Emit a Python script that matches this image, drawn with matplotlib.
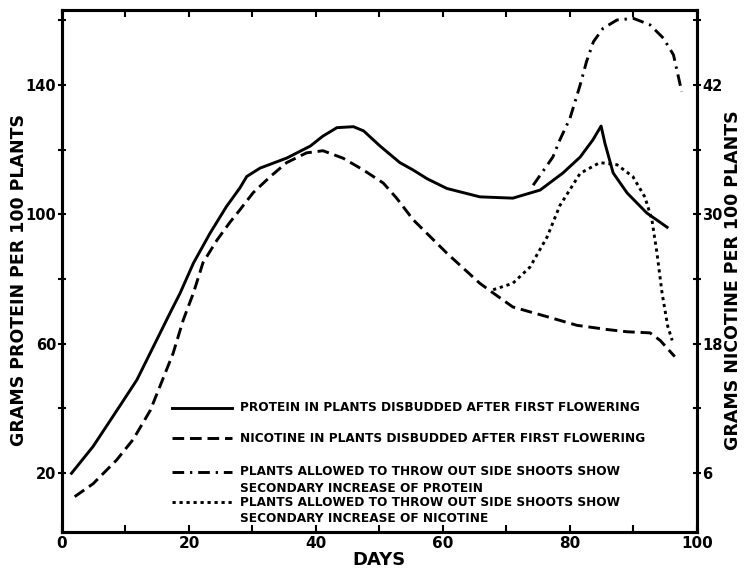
import matplotlib
matplotlib.use("Agg")
import matplotlib.pyplot as plt

# protein in disbudded plants (g / 100 plants, left axis)
prot_days = [1.5, 4.9, 9.1, 11.8, 14.4, 17.0, 18.6, 20.7, 23.3, 25.9, 28.0, 29.1, 31.2, 35.4,
             39.1, 41.1, 43.3, 45.9, 47.5, 50.1, 53.2, 55.3, 57.5, 60.6, 65.8, 71, 75.3, 78.9,
             81.6, 83.6, 84.9, 85.5, 86.8, 89, 92.1, 95.3]
prot_vals = [19.9, 28.2, 40.7, 48.8, 59.1, 69.4, 75.6, 84.9, 94.1, 102.4, 108.1, 111.7, 114.3, 117.4,
             121.1, 124.2, 126.8, 127.1, 125.8, 121.1, 116.0, 113.7, 111, 108, 105.4, 105, 107.5, 112.8,
             117.7, 123, 127.3, 122, 112.8, 106.6, 100.4, 96]

# nicotine in disbudded plants (g / 100 plants, right axis)
nic_days = [2.0, 4.9, 8.6, 11.2, 13.9, 15.4, 17.5, 19.1, 20.7, 22.2, 24.4, 26.5, 28.0, 30.1,
            32.8, 35.4, 38.5, 41.1, 44.3, 47.5, 50.6, 52.7, 55.3, 60.6, 65.8, 67.9, 71, 76.4,
            81.1, 86, 89, 92.6, 94.2, 96.5]
nic_vals = [3.8, 5.0, 7.2, 9.1, 11.8, 14.0, 17.1, 20.2, 22.7, 25.5, 27.6, 29.3, 30.4, 32.0,
            33.5, 34.8, 35.7, 35.9, 35.2, 34.1, 32.9, 31.5, 29.5, 26.4, 23.6, 22.7, 21.4, 20.5,
            19.7, 19.3, 19.1, 19.0, 18.3, 16.8]

# plants with side shoots, protein (left axis)
side_prot_days = [74.2, 77.3, 78.4, 80, 81.6, 82.6, 83.7, 85.2, 87.4, 90, 92.6, 94.7, 96.3, 97.6]
side_prot_vals = [109, 117.7, 123, 129.7, 140, 147.2, 153.4, 157.5, 160.1, 160.6, 158.6, 154.5, 149.3, 137.9]

# plants with side shoots, nicotine (right axis)
side_nic_days = [67.9, 71, 73.7, 76.4, 78.4, 81.6, 84.7, 87.4, 89.9, 91.8, 92.9, 93.7, 94.5, 95.4, 96.1]
side_nic_vals = [23.0, 23.6, 25.1, 27.9, 30.8, 33.8, 34.8, 34.6, 33.5, 31.6, 29.5, 26.4, 22.7, 19.6, 18.3]

legend_labels = [
    ["PROTEIN IN PLANTS DISBUDDED AFTER FIRST FLOWERING"],
    ["NICOTINE IN PLANTS DISBUDDED AFTER FIRST FLOWERING"],
    ["PLANTS ALLOWED TO THROW OUT SIDE SHOOTS SHOW", "SECONDARY INCREASE OF PROTEIN"],
    ["PLANTS ALLOWED TO THROW OUT SIDE SHOOTS SHOW", "SECONDARY INCREASE OF NICOTINE"],
]

plt.rcParams['font.family'] = 'DejaVu Sans'
plt.rcParams['font.weight'] = 'bold'

fig = plt.figure(figsize=(7.44, 5.73), dpi=100)
ax = fig.add_axes([0.0833, 0.0716, 0.8535, 0.911])
ax2 = ax.twinx()

lw = 2.1
dash = (0, (4, 2))
dashdot = (0, (4, 2, 0.8, 2))
dotted = (0, (1.1, 1.3))
styles = ['-', dash, dashdot, dotted]

ax.plot(prot_days, prot_vals, color='black', lw=lw)
ax.plot(side_prot_days, side_prot_vals, color='black', lw=lw, linestyle=dashdot)
ax2.plot(nic_days, nic_vals, color='black', lw=lw, linestyle=dash)
ax2.plot(side_nic_days, side_nic_vals, color='black', lw=lw, linestyle=dotted)

ax.set_xlim(0, 100)
ax.set_ylim(1.75, 163.2)
ax2.set_ylim(1.75 * 0.3, 163.2 * 0.3)

ax.set_xticks(range(0, 101, 10))
ax.set_xticklabels([str(v) if v % 20 == 0 else "" for v in range(0, 101, 10)])
ax.set_yticks(range(20, 161, 20))
ax.set_yticklabels([str(v) if v in (20, 60, 100, 140) else "" for v in range(20, 161, 20)])
ax2.set_yticks(range(6, 49, 6))
ax2.set_yticklabels([str(v) if v in (6, 18, 30, 42) else "" for v in range(6, 49, 6)])

ax.tick_params(axis='x', direction='in', top=True, length=5, width=1.5, labelsize=11, pad=3)
ax.tick_params(axis='y', direction='inout', length=6, width=1.5, labelsize=10.5, pad=1)
ax2.tick_params(axis='y', direction='inout', length=6, width=1.5, labelsize=10.5, pad=1)

for a in (ax, ax2):
    for s in a.spines.values():
        s.set_linewidth(2.2)

ax.set_xlabel("DAYS", fontsize=13, fontweight='bold')
ax.xaxis.set_label_coords(0.5, -0.036)
ax.set_ylabel("GRAMS PROTEIN PER 100 PLANTS", fontsize=12.5, fontweight='bold')
ax.yaxis.set_label_coords(-0.053, 0.483)
ax2.set_ylabel("GRAMS NICOTINE PER 100 PLANTS", fontsize=12.5, fontweight='bold')
ax2.yaxis.set_label_coords(1.043, 0.483)

# legend drawn by hand so the sample line sits on the first text line
row_y = [0.2375, 0.180, 0.115, 0.057]
for style, lines, y in zip(styles, legend_labels, row_y):
    ax.plot([0.174, 0.268], [y, y], transform=ax.transAxes, color='black', lw=lw, linestyle=style)
    for k, txt in enumerate(lines):
        ax.text(0.280, y - k * 0.031, txt, transform=ax.transAxes, fontsize=8.7,
                fontweight='bold', va='center', ha='left')

fig.savefig("out.png", dpi=100)
